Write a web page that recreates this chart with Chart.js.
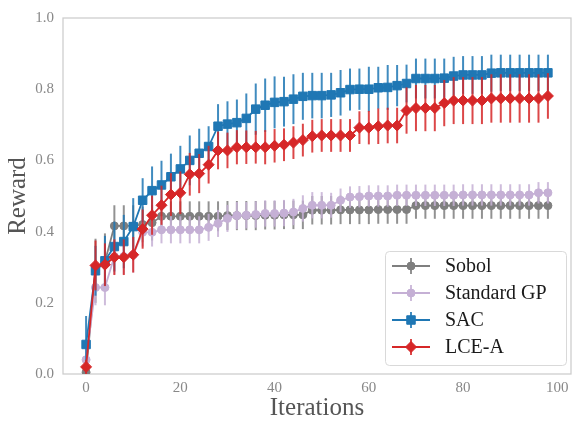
<!DOCTYPE html>
<html lang="en">
<head>
  <meta charset="UTF-8">
  <title>Reward vs Iterations</title>
  <script src="https://cdn.jsdelivr.net/npm/chart.js"></script>
  <style>
    html, body {
      margin: 0;
      padding: 0;
      overflow: hidden;
      background: white;
    }
    .chart-container {
      width: 578px;   /* right spine sits just past the window edge */
      height: 421px;
    }
  </style>
</head>
<body>
  <div class="chart-container">
    <canvas id="rewardChart"></canvas>
  </div>
  <script>
    // iterations 0, 2, ..., 98
    const iterations = [0,2,4,6,8,10,12,14,16,18,20,22,24,26,28,30,32,34,36,38,40,42,44,46,48,
                        50,52,54,56,58,60,62,64,66,68,70,72,74,76,78,80,82,84,86,88,90,92,94,96,98];

    const sobolMean = [0.005,0.29,0.315,0.416,0.416,0.416,0.42,0.425,0.443,0.443,0.443,0.443,0.443,0.443,0.443,0.445,0.445,0.445,0.445,0.446,0.446,0.447,0.447,0.447,0.46,
                       0.46,0.46,0.461,0.461,0.461,0.461,0.462,0.462,0.462,0.462,0.473,0.473,0.473,0.473,0.473,0.473,0.473,0.473,0.473,0.473,0.473,0.473,0.473,0.473,0.473];
    const sobolErr = [0.005,0.09,0.08,0.058,0.058,0.058,0.05,0.05,0.042,0.042,0.042,0.042,0.042,0.042,0.042,0.041,0.041,0.041,0.041,0.04,0.04,0.04,0.04,0.04,0.04,
                      0.04,0.04,0.04,0.04,0.04,0.04,0.04,0.04,0.04,0.04,0.037,0.037,0.037,0.037,0.037,0.037,0.037,0.037,0.037,0.037,0.037,0.037,0.037,0.037,0.037];

    const gpMean = [0.04,0.243,0.243,0.33,0.33,0.335,0.398,0.398,0.405,0.405,0.405,0.405,0.405,0.412,0.423,0.437,0.445,0.446,0.448,0.451,0.451,0.452,0.455,0.465,0.474,
                    0.474,0.474,0.488,0.497,0.498,0.5,0.5,0.5,0.502,0.502,0.502,0.502,0.502,0.502,0.502,0.503,0.503,0.503,0.503,0.503,0.503,0.503,0.503,0.509,0.509];
    const gpErr = [0.03,0.05,0.05,0.05,0.05,0.05,0.04,0.04,0.038,0.038,0.038,0.038,0.038,0.038,0.038,0.038,0.038,0.037,0.037,0.037,0.037,0.037,0.037,0.037,0.037,
                   0.037,0.035,0.033,0.03,0.03,0.03,0.03,0.03,0.03,0.03,0.03,0.03,0.03,0.03,0.03,0.03,0.03,0.03,0.03,0.03,0.03,0.03,0.03,0.03,0.03];

    const sacMean = [0.083,0.29,0.318,0.358,0.372,0.414,0.488,0.515,0.531,0.554,0.576,0.6,0.62,0.639,0.696,0.702,0.706,0.718,0.744,0.755,0.763,0.765,0.772,0.78,0.782,
                     0.782,0.784,0.79,0.799,0.8,0.8,0.804,0.805,0.81,0.816,0.83,0.83,0.83,0.831,0.837,0.84,0.84,0.84,0.845,0.846,0.846,0.846,0.846,0.846,0.846];
    const sacErr = [0.08,0.07,0.07,0.07,0.075,0.08,0.062,0.068,0.068,0.065,0.065,0.07,0.069,0.057,0.062,0.064,0.065,0.07,0.072,0.075,0.073,0.07,0.07,0.066,0.064,
                    0.064,0.062,0.064,0.059,0.058,0.063,0.059,0.063,0.058,0.053,0.056,0.056,0.056,0.055,0.054,0.053,0.053,0.053,0.052,0.051,0.051,0.051,0.051,0.051,0.051];

    const lceMean = [0.02,0.305,0.307,0.328,0.328,0.335,0.407,0.446,0.474,0.504,0.509,0.561,0.563,0.588,0.628,0.628,0.637,0.637,0.637,0.637,0.641,0.644,0.65,0.657,0.668,
                     0.67,0.67,0.67,0.67,0.692,0.692,0.696,0.698,0.698,0.74,0.747,0.747,0.747,0.761,0.768,0.768,0.768,0.768,0.774,0.774,0.774,0.774,0.774,0.774,0.781];
    const lceErr = [0.02,0.07,0.06,0.05,0.05,0.05,0.055,0.055,0.055,0.06,0.06,0.06,0.055,0.053,0.053,0.05,0.048,0.047,0.046,0.048,0.047,0.046,0.046,0.046,0.046,
                    0.046,0.046,0.046,0.046,0.046,0.047,0.05,0.05,0.05,0.065,0.065,0.065,0.065,0.065,0.066,0.066,0.066,0.066,0.068,0.068,0.068,0.068,0.068,0.068,0.064];

    const xTicks = [0, 20, 40, 60, 80, 100];
    const yTicks = [0, 0.2, 0.4, 0.6, 0.8, 1.0];

    const series = [
      { label: 'Sobol',       mean: sobolMean, err: sobolErr, color: '#7f7f7f', style: 'circle',  radius: 4,   order: 4 },
      { label: 'Standard GP', mean: gpMean,    err: gpErr,    color: '#c5b0d5', style: 'circle',  radius: 4,   order: 3 },
      { label: 'SAC',         mean: sacMean,   err: sacErr,   color: '#1f77b4', style: 'rect',    radius: 6,   order: 2 },
      { label: 'LCE-A',       mean: lceMean,   err: lceErr,   color: '#d62728', style: 'rectRot', radius: 5.5, order: 1 }
    ];

    function withAlpha(hex, a) {
      const n = parseInt(hex.slice(1), 16);
      return `rgba(${(n >> 16) & 255}, ${(n >> 8) & 255}, ${n & 255}, ${a})`;
    }

    const datasets = series.map(s => ({
      label: s.label,
      data: iterations.map((it, i) => ({ x: it, y: s.mean[i] })),
      errors: s.err,
      borderColor: s.color,
      backgroundColor: s.color,
      errColor: withAlpha(s.color, 0.85),
      borderWidth: 1.8,
      pointStyle: s.style,
      pointRadius: s.radius,
      pointBorderWidth: 1,
      pointBackgroundColor: s.color,
      pointBorderColor: s.color,
      tension: 0,
      order: s.order
    }));

    // vertical error bars, drawn just under each dataset's own line
    const errorBars = {
      id: 'errorBars',
      beforeDatasetDraw(chart, args) {
        const ds = chart.data.datasets[args.index];
        const xs = chart.scales.x, ys = chart.scales.y;
        const area = chart.chartArea;
        const ctx = chart.ctx;
        ctx.save();
        ctx.beginPath();
        ctx.rect(area.left, area.top, area.right - area.left, area.bottom - area.top);
        ctx.clip();
        ctx.strokeStyle = ds.errColor;
        ctx.lineWidth = 2;
        ds.data.forEach((p, i) => {
          const px = xs.getPixelForValue(p.x);
          ctx.beginPath();
          ctx.moveTo(px, ys.getPixelForValue(p.y - ds.errors[i]));
          ctx.lineTo(px, ys.getPixelForValue(p.y + ds.errors[i]));
          ctx.stroke();
        });
        ctx.restore();
      }
    };

    // light grey frame round the axes
    const frame = {
      id: 'frame',
      beforeDatasetsDraw(chart) {
        const a = chart.chartArea;
        const ctx = chart.ctx;
        ctx.save();
        ctx.strokeStyle = '#cccccc';
        ctx.lineWidth = 1.25;
        ctx.strokeRect(a.left, a.top, a.right - a.left, a.bottom - a.top);
        ctx.restore();
      }
    };

    // legend box in the lower right, like matplotlib's
    const insideLegend = {
      id: 'insideLegend',
      afterDraw(chart) {
        const ctx = chart.ctx;
        const box = { x: 385, y: 251.5, w: 181, h: 114 };
        ctx.save();
        ctx.beginPath();
        ctx.roundRect(box.x + 0.5, box.y, box.w, box.h, 4);
        ctx.fillStyle = 'rgba(255,255,255,0.8)';
        ctx.fill();
        ctx.strokeStyle = '#d9d9d9';
        ctx.lineWidth = 1;
        ctx.stroke();

        const rows = [266, 293, 320, 347];
        chart.data.datasets.forEach((ds, i) => {
          const y = rows[i];
          const mx = 411;
          ctx.strokeStyle = ds.errColor;
          ctx.lineWidth = 2;
          ctx.beginPath();
          ctx.moveTo(mx, y - 8);
          ctx.lineTo(mx, y + 8);
          ctx.stroke();
          ctx.strokeStyle = ds.borderColor;
          ctx.lineWidth = ds.borderWidth;
          ctx.beginPath();
          ctx.moveTo(392, y);
          ctx.lineTo(430, y);
          ctx.stroke();
          ctx.fillStyle = ds.pointBackgroundColor;
          ctx.strokeStyle = ds.pointBorderColor;
          ctx.lineWidth = 1;
          Chart.helpers.drawPoint(ctx, { pointStyle: ds.pointStyle, radius: ds.pointRadius, rotation: 0, borderWidth: 1 }, mx, y);
          ctx.fillStyle = '#1a1a1a';
          ctx.font = '20px "Liberation Serif"';
          ctx.textAlign = 'left';
          ctx.textBaseline = 'middle';
          ctx.fillText(ds.label, 445, y + 1);
        });
        ctx.restore();
      }
    };

    const config = {
      type: 'line',
      data: { datasets: datasets },
      options: {
        responsive: true,
        maintainAspectRatio: false,
        animation: false,
        devicePixelRatio: 1,
        layout: { padding: { left: 0, top: 14, right: 1, bottom: 0 } },
        plugins: {
          legend: { display: false },
          tooltip: { enabled: false }
        },
        scales: {
          x: {
            type: 'linear',
            min: -4.9,
            max: 102.9,
            afterBuildTicks: scale => { scale.ticks = xTicks.map(v => ({ value: v })); },
            afterFit: scale => { scale.height = 47; },
            grid: { display: false, drawTicks: false },
            border: { display: false },
            ticks: {
              color: '#888888',
              font: { family: 'Liberation Serif', size: 15 },
              padding: 5,
              maxRotation: 0
            },
            title: {
              display: true,
              text: 'Iterations',
              color: '#555555',
              font: { family: 'Liberation Serif', size: 25, lineHeight: 1 },
              padding: 0
            }
          },
          y: {
            min: 0,
            max: 1,
            afterBuildTicks: scale => { scale.ticks = yTicks.map(v => ({ value: v })); },
            afterFit: scale => { scale.width = 63; },
            grid: { display: false, drawTicks: false },
            border: { display: false },
            ticks: {
              color: '#888888',
              font: { family: 'Liberation Serif', size: 15 },
              padding: 9,
              callback: v => Number(v).toFixed(1)
            },
            title: {
              display: true,
              text: 'Reward',
              color: '#555555',
              font: { family: 'Liberation Serif', size: 25 },
              padding: { top: 3, bottom: 0 }
            }
          }
        }
      },
      plugins: [errorBars, frame, insideLegend]
    };

    new Chart(document.getElementById('rewardChart'), config);
  </script>
</body>
</html>
